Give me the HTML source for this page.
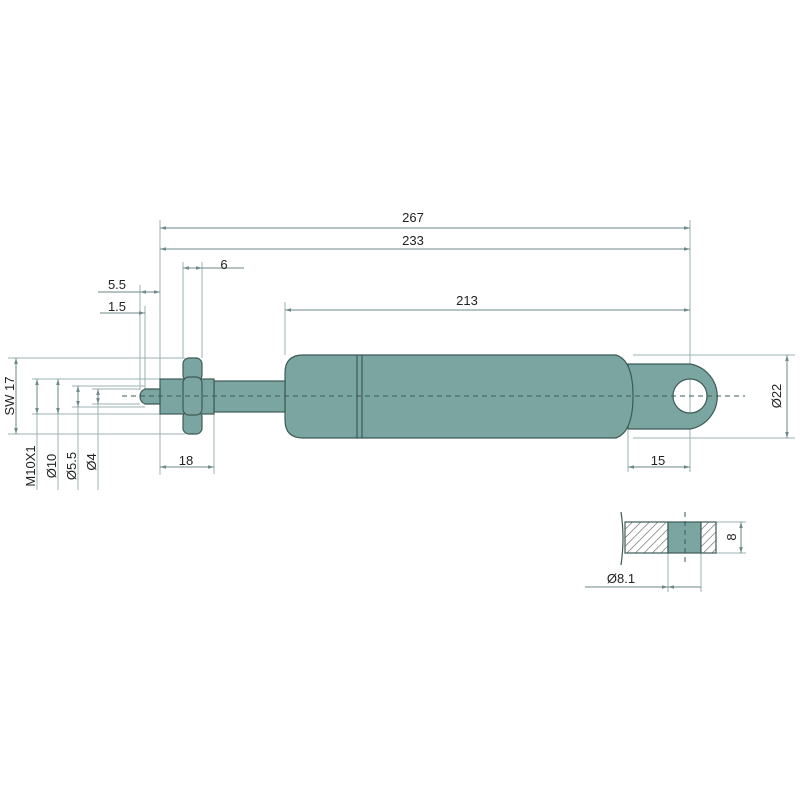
<!DOCTYPE html>
<html><head><style>body{margin:0;background:#fff}svg{display:block}text{font-family:"Liberation Sans",sans-serif;font-size:13px;fill:#222}</style></head><body>
<svg width="800" height="800" viewBox="0 0 800 800" xmlns="http://www.w3.org/2000/svg">
<defs>
<pattern id="h" width="6" height="6" patternUnits="userSpaceOnUse" patternTransform="rotate(45)"><rect width="6" height="6" fill="#fff"/><line x1="0" y1="0" x2="0" y2="6" stroke="#555" stroke-width="1.2"/></pattern>
<marker id="a" viewBox="0 0 10 10" refX="10" refY="5" markerWidth="6" markerHeight="6" orient="auto-start-reverse"><path d="M0,2 L10,5 L0,8z" fill="#6b8a87"/></marker>
</defs>
<g stroke="#9bb3b0" stroke-width="1" fill="none">
<line x1="160" y1="220" x2="160" y2="475"/><line x1="690" y1="220" x2="690" y2="472"/>
<line x1="285" y1="302" x2="285" y2="355"/><line x1="183" y1="262" x2="183" y2="358"/><line x1="202" y1="262" x2="202" y2="358"/>
<line x1="140" y1="285" x2="140" y2="390"/><line x1="145" y1="306" x2="145" y2="390"/>
<line x1="214" y1="414" x2="214" y2="474"/><line x1="628" y1="430" x2="628" y2="472"/>
<line x1="633" y1="355" x2="795" y2="355"/><line x1="633" y1="438" x2="795" y2="438"/>
<line x1="8" y1="358" x2="185" y2="358"/><line x1="8" y1="434" x2="185" y2="434"/>
<line x1="32" y1="379" x2="160" y2="379"/><line x1="32" y1="414" x2="160" y2="414"/>
<line x1="72" y1="386" x2="145" y2="386"/><line x1="72" y1="407" x2="145" y2="407"/>
<line x1="92" y1="389" x2="140" y2="389"/><line x1="92" y1="404" x2="140" y2="404"/>
<line x1="37" y1="379" x2="37" y2="490"/><line x1="58" y1="379" x2="58" y2="490"/>
<line x1="78" y1="386" x2="78" y2="490"/><line x1="98" y1="389" x2="98" y2="490"/>
<line x1="668" y1="553" x2="668" y2="592"/><line x1="701" y1="553" x2="701" y2="592"/>
<line x1="716" y1="522" x2="746" y2="522"/><line x1="716" y1="553" x2="746" y2="553"/>
</g>
<g stroke="#6b8a87" stroke-width="1" fill="none">
<line x1="160" y1="228" x2="690" y2="228" marker-start="url(#a)" marker-end="url(#a)"/>
<line x1="160" y1="249" x2="690" y2="249" marker-start="url(#a)" marker-end="url(#a)"/>
<line x1="285" y1="310" x2="690" y2="310" marker-start="url(#a)" marker-end="url(#a)"/>
<line x1="183" y1="268" x2="202" y2="268" marker-start="url(#a)" marker-end="url(#a)"/><line x1="202" y1="268" x2="244" y2="268"/>
<line x1="98" y1="292" x2="140" y2="292"/><line x1="140" y1="292" x2="160" y2="292" marker-start="url(#a)" marker-end="url(#a)"/>
<line x1="100" y1="313" x2="145" y2="313" marker-end="url(#a)"/>
<line x1="160" y1="467" x2="214" y2="467" marker-start="url(#a)" marker-end="url(#a)"/>
<line x1="628" y1="467" x2="690" y2="467" marker-start="url(#a)" marker-end="url(#a)"/>
<line x1="787" y1="355" x2="787" y2="438" marker-start="url(#a)" marker-end="url(#a)"/>
<line x1="16" y1="358" x2="16" y2="434" marker-start="url(#a)" marker-end="url(#a)"/>
<line x1="37" y1="379" x2="37" y2="414" marker-start="url(#a)" marker-end="url(#a)"/>
<line x1="58" y1="379" x2="58" y2="414" marker-start="url(#a)" marker-end="url(#a)"/>
<line x1="78" y1="386" x2="78" y2="407" marker-start="url(#a)" marker-end="url(#a)"/>
<line x1="98" y1="389" x2="98" y2="404" marker-start="url(#a)" marker-end="url(#a)"/>
<line x1="741" y1="522" x2="741" y2="553" marker-start="url(#a)" marker-end="url(#a)"/>
<line x1="585" y1="587" x2="668" y2="587" marker-end="url(#a)"/><line x1="668" y1="587" x2="701" y2="587" marker-start="url(#a)"/>
</g>
<g fill="#7aa5a1" stroke="#3d5a57" stroke-width="1.2">
<path d="M628,364 H690 A33,33 0 0 1 690,429 H628 Z M707,396 A17,17 0 0 0 673,396 A17,17 0 0 0 707,396 Z" fill-rule="evenodd"/>
<path d="M303,355 H616 Q633,360 633,396 Q633,432 616,438 H303 Q285,438 285,420 V373 Q285,355 303,355 Z"/>
<line x1="357" y1="355" x2="357" y2="438"/><line x1="362" y1="355" x2="362" y2="438"/>
<rect x="214" y="381" width="71" height="31"/>
<rect x="160" y="379" width="54" height="35"/>
<path d="M145,389 H160 V404 H145 Q140,402 140,396.5 Q140,391 145,389 Z"/>
<rect x="183" y="358" width="19" height="23" rx="6"/>
<rect x="183" y="411" width="19" height="23" rx="6"/>
<rect x="183" y="377" width="19" height="38" rx="6"/>
<path d="M621,512 Q625,538 621,565" fill="none"/>
<rect x="625" y="522" width="43" height="31" fill="url(#h)"/>
<rect x="668" y="522" width="33" height="31"/>
<rect x="701" y="522" width="15" height="31" fill="url(#h)"/>
</g>
<g stroke="#3d5a57" stroke-width="1" stroke-dasharray="5,4" fill="none">
<line x1="122" y1="396" x2="745" y2="396"/><line x1="685" y1="512" x2="685" y2="565"/>
</g>
<text x="413" y="222" text-anchor="middle">267</text>
<text x="413" y="245" text-anchor="middle">233</text>
<text x="467" y="305" text-anchor="middle">213</text>
<text x="224" y="269" text-anchor="middle">6</text>
<text x="117" y="289" text-anchor="middle">5.5</text>
<text x="117" y="311" text-anchor="middle">1.5</text>
<text x="186" y="465" text-anchor="middle">18</text>
<text x="658" y="465" text-anchor="middle">15</text>
<text x="621" y="583" text-anchor="middle">Ø8.1</text>
<text transform="translate(781,396) rotate(-90)" text-anchor="middle">Ø22</text>
<text transform="translate(736,537) rotate(-90)" text-anchor="middle">8</text>
<text transform="translate(14,396) rotate(-90)" text-anchor="middle">SW 17</text>
<text transform="translate(35,466) rotate(-90)" text-anchor="middle">M10X1</text>
<text transform="translate(56,466) rotate(-90)" text-anchor="middle">Ø10</text>
<text transform="translate(76,466) rotate(-90)" text-anchor="middle">Ø5.5</text>
<text transform="translate(96,462) rotate(-90)" text-anchor="middle">Ø4</text>
</svg>
</body></html>
